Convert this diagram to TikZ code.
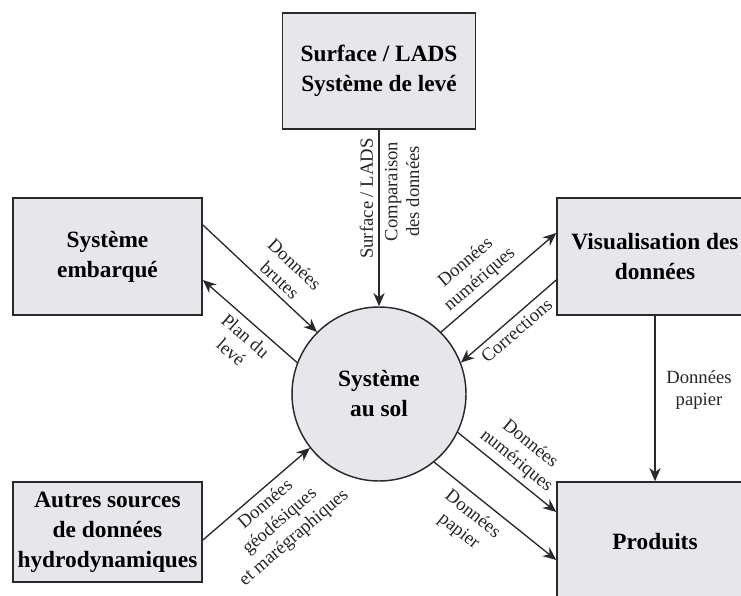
\documentclass[tikz,border=0pt]{standalone}
\usepackage{fontspec}
\setmainfont{Liberation Serif}
\usepackage{xcolor}
\usetikzlibrary{calc,positioning,arrows.meta}
\definecolor{boxgray}{RGB}{231,231,235}
\definecolor{edgegray}{RGB}{40,40,45}

\begin{document}
\begin{tikzpicture}[x=0.75pt,y=-0.75pt,
		bloc/.style={draw=edgegray,line width=1.1pt,fill=boxgray,align=center,
			font=\fontsize{17.5}{22.5}\selectfont\bfseries},
		rond/.style={circle,draw=edgegray,line width=1.1pt,fill=boxgray,align=center,
			minimum size=130.5pt,font=\fontsize{17.5}{22.5}\selectfont\bfseries},
		flux/.style={-{Stealth[length=10pt,width=8.5pt]},line width=1pt,draw=edgegray},
		lbl/.style={align=center,inner sep=4pt,text=black!85,font=\fontsize{14}{16.3}\selectfont}]
		\useasboundingbox (0,0) rectangle (741,595);
		% boites
		\node[bloc,minimum width=145pt,minimum height=87pt] (leve) at (379,71) {Surface / LADS\\Système de levé};
		\node[bloc,minimum width=142pt,minimum height=88pt] (embarque) at (107.5,256.5) {Système\\embarqué};
		\node[bloc,minimum width=147pt,minimum height=88pt] (visu) at (655,256.5) {Visualisation des\\données};
		\node[rond] (sol) at (379,394) {Système\\au sol};
		\node[bloc,minimum width=142pt,minimum height=75pt] (autres) at (107.5,532) {Autres sources\\de données\\hydrodynamiques};
		\node[bloc,minimum width=147pt,minimum height=90pt] (produits) at (655,542) {Produits};
		% flux
		\draw[flux] (leve.south) -- (sol.north)
			node[lbl,pos=0.39,rotate=90,anchor=south] {Surface / LADS}
			node[lbl,pos=0.35,rotate=90,anchor=north] {Comparaison\\des données};
		\draw[flux] ($(embarque.east)+(0,-31.5)$) -- (sol.135) node[lbl,pos=0.6,sloped,above] {Données\\brutes};
		\draw[flux] (sol.159) -- ($(embarque.east)+(0,23.5)$) node[lbl,pos=0.45,sloped,below,inner sep=5pt] {Plan du\\levé};
		\draw[flux] (sol.45) -- ($(visu.west)+(0,-23.5)$) node[lbl,pos=0.42,sloped,above] {Données\\numériques};
		\draw[flux] ($(visu.west)+(0,23.5)$) -- (sol.21) node[lbl,midway,sloped,below] {Corrections};
		\draw[flux] (visu.south) -- (produits.north) node[lbl,pos=0.45,right,xshift=4pt] {Données\\papier};
		\draw[flux] (sol.-26) -- ($(produits.west)+(0,-30)$) node[lbl,midway,sloped,above] {Données\\numériques};
		\draw[flux] (sol.-51) -- ($(produits.west)+(0,18)$) node[lbl,pos=0.4,sloped,below,inner sep=6pt] {Données\\papier};
		\draw[flux] ($(autres.east)+(0,8)$) -- (sol.218) node[lbl,midway,sloped,below] {Données\\géodésiques\\et marégraphiques};
	\end{tikzpicture}
\end{document}
